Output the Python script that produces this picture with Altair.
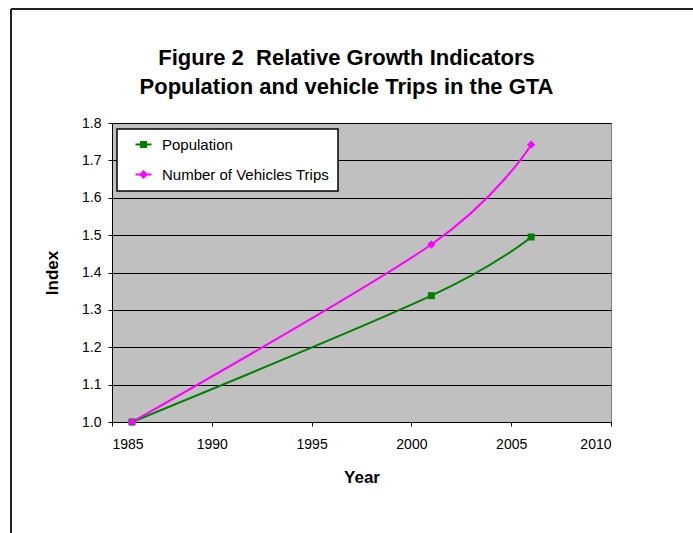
import altair as alt
import pandas as pd

years = [1986, 2001, 2006]
population = [1.0, 1.338, 1.495]
vehicle_trips = [1.0, 1.475, 1.742]
series_names = ["Population", "Number of Vehicles Trips"]
series_colors = ["#008000", "#FF00FF"]
x_ticks = [1985, 1990, 1995, 2000, 2005, 2010]
y_ticks = [1.0, 1.1, 1.2, 1.3, 1.4, 1.5, 1.6, 1.7, 1.8]
title_lines = ["Figure 2\u00a0 Relative Growth Indicators", "Population and vehicle Trips in the GTA"]

rows = []
for name, vals in zip(series_names, [population, vehicle_trips]):
    for yr, v in zip(years, vals):
        rows.append({"Year": yr, "Index": v, "series": name})
df = pd.DataFrame(rows)

FONT = "Liberation Sans"

# legend symbols: a short line with the marker on it
sq_path = "M0.5,-0.17H3.167V0.17H0.5Z M1.25,-0.6H2.42V0.6H1.25Z"
dm_path = "M0.5,-0.17H3.167V0.17H0.5Z M1.833,-0.75L2.583,0L1.833,0.75L1.083,0Z"

x_enc = alt.X("Year:Q", scale=alt.Scale(domain=[1985, 2010], nice=False, zero=False),
              axis=alt.Axis(values=x_ticks, format="d", grid=False, title="Year",
                            labelPadding=11, titlePadding=18))
y_enc = alt.Y("Index:Q", scale=alt.Scale(domain=[1.0, 1.8], nice=False, zero=False),
              axis=alt.Axis(values=y_ticks, format=".1f", grid=True, title="Index",
                            labelPadding=7, titlePadding=20))

base = alt.Chart(df)
pop_base = base.transform_filter(alt.datum.series == "Population")
veh_base = base.transform_filter(alt.datum.series == "Number of Vehicles Trips")

frame_left = base.mark_rule(color="#222222", strokeWidth=1.5).encode(
    x=alt.value(-101), y=alt.value(-114), y2=alt.value(430))
frame_top = base.mark_rule(color="#222222", strokeWidth=1.5).encode(
    x=alt.value(-101), x2=alt.value(600), y=alt.value(-114))

pop_line = pop_base.mark_line(interpolate="cardinal", strokeWidth=2, color=series_colors[0]).encode(
    x=x_enc, y=y_enc)
veh_line = veh_base.mark_line(interpolate="cardinal", strokeWidth=2, color=series_colors[1]).encode(
    x=x_enc, y=y_enc)

pop_pts = pop_base.mark_square(size=49, filled=True, opacity=1, color=series_colors[0]).encode(
    x=x_enc, y=y_enc)
veh_pts = veh_base.mark_point(shape="diamond", size=70, filled=True, opacity=1,
                              color=series_colors[1]).encode(x=x_enc, y=y_enc)

legend_def = alt.Legend(title=None, orient="none", legendX=5, legendY=6,
                        fillColor="white", strokeColor="black", padding=8,
                        rowPadding=14, labelOffset=22, symbolSize=144, labelLimit=400,
                        labelFont=FONT, labelFontSize=15, labelColor="black",
                        symbolStrokeWidth=0, symbolOpacity=1)

legend_layer = base.transform_filter("false").mark_point(filled=True, opacity=1).encode(
    x=x_enc, y=y_enc,
    color=alt.Color("series:N", scale=alt.Scale(domain=series_names, range=series_colors),
                    legend=legend_def),
    shape=alt.Shape("series:N", scale=alt.Scale(domain=series_names, range=[sq_path, dm_path]),
                    legend=legend_def))

chart = alt.layer(frame_left, frame_top, pop_line, veh_line, pop_pts, veh_pts, legend_layer).properties(
    width=499, height=299,
    title=alt.TitleParams(title_lines, font=FONT, fontSize=22, fontWeight="bold",
                          color="black", lineHeight=29, anchor="middle", dx=-15,
                          frame="group", offset=0, dy=91),
    autosize=alt.AutoSizeParams(type="none"),
    padding={"left": 112, "top": 123, "right": 82, "bottom": 111},
    background="white",
).configure_view(
    fill="#C0C0C0", stroke="#808080", strokeWidth=1
).configure_axis(
    domainColor="black", tickColor="black", tickSize=4,
    labelFont=FONT, labelFontSize=14, labelColor="black",
    titleFont=FONT, titleFontSize=17, titleFontWeight="bold", titleColor="black",
    gridColor="black", gridOpacity=1, gridWidth=1
).configure_legend(
    strokeWidth=1.5
)

chart.save("out.html", embed_options={"renderer": "svg", "actions": False})
